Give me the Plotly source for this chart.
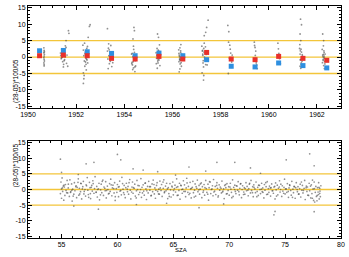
import plotly.graph_objects as go
from plotly.subplots import make_subplots

# ---------------- top panel: per-year clusters ----------------
dot_year = [
    # 1950
    1950.66,1950.67,1950.66,1950.68,1950.67,1950.66,1950.67,1950.68,1950.66,1950.67,1950.67,1950.68,
    # 1951
    1951.35,1951.38,1951.40,1951.42,1951.44,1951.46,1951.48,1951.50,1951.52,1951.55,1951.58,1951.60,
    1951.62,1951.65,1951.40,1951.45,1951.50,1951.55,1951.36,1951.68,1951.70,1951.58,1951.47,1951.43,
    # 1952
    1952.28,1952.30,1952.32,1952.34,1952.36,1952.38,1952.40,1952.42,1952.44,1952.46,1952.48,1952.50,
    1952.30,1952.33,1952.37,1952.41,1952.45,1952.35,1952.39,1952.30,1952.32,1952.58,1952.55,1952.50,
    1952.47,1952.43,
    # 1953
    1953.30,1953.32,1953.34,1953.36,1953.38,1953.40,1953.42,1953.44,1953.46,1953.48,1953.50,1953.33,
    1953.37,1953.41,1953.45,1953.52,1953.30,1953.35,1953.39,1953.43,
    # 1954
    1954.30,1954.32,1954.34,1954.36,1954.38,1954.40,1954.42,1954.44,1954.46,1954.48,1954.31,1954.35,
    1954.39,1954.43,1954.47,1954.33,1954.37,1954.41,1954.45,1954.40,1954.42,1954.36,1954.38,1954.44,
    # 1955
    1955.32,1955.34,1955.36,1955.38,1955.40,1955.42,1955.44,1955.46,1955.48,1955.35,1955.39,1955.43,
    1955.47,1955.37,1955.41,1955.45,1955.33,1955.38,1955.42,1955.40,1955.44,
    # 1956
    1956.26,1956.28,1956.30,1956.32,1956.34,1956.36,1956.38,1956.27,1956.31,1956.35,1956.29,1956.33,
    1956.37,1956.30,1956.34,1956.28,1956.32,1956.36,1956.31,1956.33,1956.27,1956.35,
    # 1957
    1957.22,1957.24,1957.26,1957.28,1957.30,1957.32,1957.34,1957.36,1957.38,1957.40,1957.25,1957.29,
    1957.33,1957.37,1957.27,1957.31,1957.35,1957.23,1957.30,1957.29,1957.32,1957.48,1957.42,1957.38,
    1957.44,1957.26,
    # 1958
    1958.30,1958.34,1958.38,1958.42,1958.46,1958.36,1958.40,1958.44,1958.32,1958.48,1958.33,
    # 1959
    1959.40,1959.43,1959.46,1959.49,1959.52,1959.44,1959.48,1959.41,1959.50,
    # 1960
    1960.38,1960.42,1960.45,1960.48,1960.40,
    # 1961
    1961.28,1961.30,1961.32,1961.34,1961.36,1961.38,1961.40,1961.29,1961.33,1961.37,1961.31,1961.35,
    1961.39,1961.30,1961.34,1961.32,1961.36,1961.30,1961.33,1961.31,
    # 1962
    1962.22,1962.24,1962.26,1962.28,1962.30,1962.32,1962.34,1962.23,1962.27,1962.31,1962.25,1962.29,
    1962.33,1962.26,1962.30,1962.24,1962.28,1962.32,1962.27,1962.29,
]
dot_diff = [
    2.8, 2.0, 1.3, 0.8, 0.3, -0.2, -0.7, -1.2, -1.8, -2.3, -2.7, 1.6,
    1.2, -0.5, 2.4, 0.3, -1.4, 0.9, -2.2, 1.6, -0.8, 0.1, 2.9, -1.9,
    0.6, -2.8, -0.2, 1.9, -1.1, 3.4, 0.5, 8.0, 7.2, 5.0, -3.0, 0.0,
    3.6, 2.1, 0.4, -1.2, -2.8, 1.5, -0.3, -3.9, 2.6, 0.9, -1.8, 0.2,
    -4.8, -5.6, 1.0, -2.2, -0.9, 4.2, -1.5, -8.0, -6.6, 9.8, 9.3, 6.0,
    3.2, -0.6,
    1.8, -0.6, 2.7, 0.4, -2.0, 1.1, -1.3, 3.5, 0.0, -2.9, 0.7, -3.5,
    2.2, -0.9, 1.5, -1.7, 8.6, 4.0, 0.3, -0.2,
    0.9, -1.6, -2.4, 0.2, -3.3, -0.7, 1.4, -4.4, -1.1, 0.5, -2.0, -3.8,
    2.3, -0.2, -2.7, 1.1, -1.4, -0.4, 0.6, 9.0, 8.0, 5.5, 3.3, -3.0,
    1.3, -0.4, 2.6, 0.1, -1.8, 0.9, -0.9, 3.7, -2.6, 0.5, -1.2, 1.8,
    -0.3, -3.4, 2.1, 0.2, -2.0, 7.0, 6.0, -0.6, 1.0,
    2.2, 0.6, -0.8, -2.1, 1.4, -0.3, 0.9, -1.4, -3.6, 3.8, 0.2, -1.0,
    -2.8, -0.5, 1.9, -4.5, 0.0, -1.7, 2.8, -0.9, 1.1, -0.2,
    3.3, 1.8, 0.5, -1.1, 2.6, 4.2, -0.4, 1.2, -2.3, 0.8, 2.0, -3.0,
    0.0, 3.1, -1.8, 1.5, -0.9, -4.8, -5.6, -7.0, 6.5, 11.2, 9.0, 7.5,
    -2.4, 0.9,
    9.6, 7.7, 3.6, 1.2, -1.5, -0.3, 2.4, -3.1, -5.0, 0.6, 4.5,
    4.5, 2.9, 1.8, -0.6, -3.5, 0.5, -1.8, 3.5, -2.4,
    4.2, 1.1, -0.5, -2.0, 2.5,
    2.6, 0.9, -0.7, -2.2, 1.5, -1.3, 0.3, 3.8, -3.4, -0.2, 1.9, -1.8,
    0.7, -2.8, 2.4, 11.5, 9.8, 7.0, 5.0, -0.9,
    2.3, 0.6, -1.0, -2.6, 1.4, -0.4, 0.9, -1.7, 3.4, -3.5, 0.1, 1.9,
    -2.1, -0.7, 0.3, 7.0, 5.0, -1.3, 0.8, -0.2,
]

sq_year = [1950.48, 1951.47, 1952.46, 1953.47, 1954.45, 1955.44, 1956.43,
           1957.42, 1958.44, 1959.43, 1960.41, 1961.42, 1962.41]
red_vals = [0.4, 0.6, 0.4, -0.4, -0.6, 0.2, -0.6, 1.4, -0.6, -0.8, 0.2, -0.4, -1.0]
blue_vals = [1.9, 2.0, 1.6, 1.1, 0.4, 1.2, 0.4, -0.8, -2.8, -3.0, -1.8, -2.6, -3.3]

# ---------------- bottom panel: versus SZA ----------------
sza = [
    54.9,54.95,55.0,55.0,55.05,55.1,55.15,55.2,55.25,55.3,
    55.35,55.4,55.5,55.55,55.6,55.7,55.75,55.8,55.9,55.95,
    56.0,56.1,56.15,56.2,56.3,56.35,56.4,56.5,56.55,56.6,
    56.7,56.75,56.8,56.9,56.95,57.0,57.1,57.15,57.2,57.3,
    57.35,57.4,57.5,57.55,57.6,57.7,57.75,57.8,57.9,57.95,
    58.0,58.1,58.15,58.2,58.3,58.35,58.4,58.5,58.55,58.6,
    58.7,58.75,58.8,58.9,58.95,59.0,59.1,59.15,59.2,59.3,
    59.35,59.4,59.5,59.55,59.6,59.7,59.75,59.8,59.9,59.95,
    60.0,60.1,60.15,60.2,60.3,60.35,60.4,60.5,60.55,60.6,
    60.7,60.75,60.8,60.9,60.95,61.0,61.1,61.15,61.2,61.3,
    61.35,61.4,61.5,61.55,61.6,61.7,61.75,61.8,61.9,61.95,
    62.0,62.1,62.15,62.2,62.3,62.35,62.4,62.5,62.55,62.6,
    62.7,62.75,62.8,62.9,62.95,63.0,63.1,63.15,63.2,63.3,
    63.35,63.4,63.5,63.55,63.6,63.7,63.75,63.8,63.9,63.95,
    64.0,64.1,64.15,64.2,64.3,64.35,64.4,64.5,64.55,64.6,
    64.7,64.75,64.8,64.9,64.95,65.0,65.1,65.15,65.2,65.3,
    65.35,65.4,65.5,65.55,65.6,65.7,65.75,65.8,65.9,65.95,
    66.0,66.1,66.15,66.2,66.3,66.35,66.4,66.5,66.55,66.6,
    66.7,66.75,66.8,66.9,66.95,67.0,67.1,67.15,67.2,67.3,
    67.35,67.4,67.5,67.55,67.6,67.7,67.75,67.8,67.9,67.95,
    68.0,68.1,68.15,68.2,68.3,68.35,68.4,68.5,68.55,68.6,
    68.7,68.75,68.8,68.9,68.95,69.0,69.1,69.15,69.2,69.3,
    69.35,69.4,69.5,69.55,69.6,69.7,69.75,69.8,69.9,69.95,
    70.0,70.1,70.15,70.2,70.3,70.35,70.4,70.5,70.55,70.6,
    70.7,70.75,70.8,70.9,70.95,71.0,71.1,71.15,71.2,71.3,
    71.35,71.4,71.5,71.55,71.6,71.7,71.75,71.8,71.9,71.95,
    72.0,72.1,72.15,72.2,72.3,72.35,72.4,72.5,72.55,72.6,
    72.7,72.75,72.8,72.9,72.95,73.0,73.1,73.15,73.2,73.3,
    73.35,73.4,73.5,73.55,73.6,73.7,73.75,73.8,73.9,73.95,
    74.0,74.1,74.15,74.2,74.3,74.35,74.4,74.5,74.55,74.6,
    74.7,74.75,74.8,74.9,74.95,75.0,75.1,75.15,75.2,75.3,
    75.35,75.4,75.5,75.55,75.6,75.7,75.75,75.8,75.9,75.95,
    76.0,76.1,76.15,76.2,76.3,76.35,76.4,76.5,76.55,76.6,
    76.7,76.75,76.8,76.9,76.95,77.0,77.1,77.15,77.2,77.3,
    77.35,77.4,77.5,77.55,77.6,77.7,77.75,77.8,77.9,78.0,
    78.05,78.1,78.15,78.2,77.65,77.85,77.45,78.0,77.95,78.1,
    # second pass
    55.07,55.46,55.61,55.92,56.04,56.28,56.47,56.63,56.86,57.03,
    57.24,57.43,57.66,57.83,58.09,58.22,58.48,58.64,58.87,59.02,
    59.26,59.44,59.67,59.81,60.08,60.23,60.46,60.62,60.88,61.04,
    61.27,61.43,61.68,61.84,62.07,62.24,62.47,62.63,62.88,63.03,
    63.27,63.44,63.68,63.83,64.08,64.22,64.47,64.64,64.87,65.02,
    65.28,65.43,65.67,65.84,66.07,66.23,66.48,66.62,66.87,67.04,
    67.28,67.42,67.66,67.83,68.08,68.24,68.46,68.63,68.88,69.03,
    69.27,69.44,69.68,69.82,70.07,70.23,70.48,70.64,70.86,71.04,
    71.28,71.43,71.67,71.83,72.08,72.22,72.47,72.63,72.88,73.02,
    73.27,73.44,73.68,73.84,74.07,74.23,74.48,74.62,74.87,75.04,
    75.28,75.42,75.66,75.83,76.08,76.24,76.46,76.64,76.88,77.03,
    77.27,77.44,77.62,77.88,78.03,78.12,55.22,55.83,56.72,57.58,
    # outliers
    54.9,57.2,57.9,60.0,60.3,62.3,63.6,58.3,56.1,61.7,
    66.4,68.9,70.5,67.9,75.1,77.2,74.1,74.0,77.6,67.3,
    71.9,77.6,61.4,55.0,56.5,65.2,69.5,72.8,64.4,
]
sza_diff = [
    -1.3, 2.4, 0.2, -2.8, 3.7, -0.6, 1.1, -3.4, 0.8, -1.9,
    1.6, -0.3, 2.9, -1.1, 0.5, -2.2, 3.1, -0.9, 1.8, -3.7,
    0.1, -1.5, 2.2, -0.4, 1.2, -2.6, 0.7, 3.4, -1.8, 0.4,
    -0.7, 1.9, -3.0, 0.9, 2.6, -1.4, 0.0, -2.1, 1.5, 3.8,
    -0.2, -1.6, 2.3, 0.6, -2.9, 1.3, -0.5, 2.8, -1.2, 0.3,
    4.1, -0.8, 1.0, -2.4, 0.2, 2.0, -3.3, -0.1, 1.7, -1.0,
    3.0, -1.9, 0.8, -0.4, 2.5, -2.7, 1.1, 0.0, -1.4, 1.9,
    -0.6, 3.3, -2.0, 0.5, 1.4, -1.1, 2.2, -3.5, 0.3, -0.9,
    1.6, -2.3, 0.9, 2.7, -0.3, -1.7, 3.9, 0.1, -1.0, 1.3,
    -2.6, 0.6, 2.0, -0.7, 1.0, -1.5, 3.2, -0.2, -3.0, 0.8,
    2.4, -1.2, 0.4, 1.7, -2.1, -0.4, 2.9, 0.0, -1.6, 1.2,
    -0.9, 3.5, -2.5, 0.7, 1.5, -0.5, -1.8, 2.1, 0.2, -3.2,
    1.0, -1.1, 2.6, -0.2, 0.9, -2.0, 1.8, -0.7, 3.0, -1.4,
    0.5, -2.8, 1.3, 2.2, -0.6, 0.1, -1.5, 2.7, -0.3, 1.6,
    -2.2, 0.4, 3.1, -1.0, 1.1, -0.4, 2.0, -2.9, 0.6, -1.3,
    1.9, -0.1, -2.4, 0.8, 2.4, -1.7, 0.3, 1.4, -0.8, 3.4,
    -1.9, 0.9, -0.3, 2.0, -3.1, 1.2, 0.0, -1.2, 2.8, -0.6,
    1.5, -2.3, 0.5, 3.6, -0.9, 1.0, -1.6, 2.3, 0.2, -2.7,
    0.7, 2.6, -1.0, -0.2, 1.8, -2.1, 0.4, 3.0, -0.7, 1.3,
    -1.5, 0.1, 2.1, -2.6, 0.9, -0.4, 1.6, -1.8, 2.9, 0.3,
    -0.9, 1.7, -3.4, 0.6, 2.4, -1.3, 0.0, 1.2, -2.0, 3.2,
    -0.5, 1.0, -1.6, 2.2, 0.4, -2.4, 1.5, -0.2, 0.8, -1.1,
    2.7, -0.8, 0.2, -2.9, 1.3, 0.6, -1.4, 1.9, -0.3, 0.9,
    -1.8, 2.0, 0.1, -0.9, 3.1, -2.2, 0.7, 1.4, -0.6, -1.3,
    1.1, -0.2, 2.5, -1.7, 0.4, 1.8, -2.6, 0.0, 1.2, -0.8,
    0.6, -1.5, 2.2, -0.4, 1.0, -2.0, 0.3, 1.7, -1.1, 2.9,
    -0.3, 0.9, -2.3, 1.5, 0.2, -1.0, 2.4, -0.6, 0.7, -1.9,
    1.3, 0.0, -1.3, 2.0, -0.7, 0.5, -2.7, 1.6, -0.2, 0.9,
    -1.6, 2.5, 0.3, -0.9, 1.1, -2.1, 0.6, 1.8, -0.4, -1.2,
    0.8, -3.0, 2.1, -0.1, 1.4, -1.7, 0.4, 2.8, -0.8, 0.0,
    -2.2, 1.2, -0.5, 0.7, 3.3, -1.4, 0.2, -0.9, 1.9, -2.5,
    0.5, 1.5, -0.3, -1.8, 2.6, 0.1, -1.0, 1.0, -2.8, 0.6,
    2.2, -0.7, 0.9, -1.5, 0.3, 1.7, -2.4, -0.2, 1.3, -1.1,
    0.4, 2.9, -3.2, 1.1, -0.6, 0.8, -1.9, 2.0, -0.4, -2.7,
    1.5, -1.3, 0.2, -3.5, 2.4, -0.9, 1.0, -2.2, 0.6, -1.6,
    -3.0, 0.4, -2.3, 1.2, -4.0, -3.6, 3.0, 2.2, -0.8, -1.2,
    # second pass
    0.5, -1.0, 1.7, -0.2, -2.1, 0.9, 2.3, -1.4, 0.2, -0.6,
    1.2, -2.5, 0.7, 1.9, -0.9, 0.0, -1.7, 2.6, 0.4, -0.3,
    -1.2, 1.5, 0.3, -2.3, 0.8, -0.5, 1.9, -1.6, 0.1, 2.2,
    -0.8, 0.6, -2.7, 1.3, 0.0, -1.1, 2.0, -0.4, 0.9, -1.9,
    1.6, -0.2, -1.4, 0.5, 2.4, -0.7, 0.2, -2.2, 1.1, -0.3,
    0.7, -1.8, 1.4, 0.1, -0.6, 2.1, -1.2, 0.4, -2.4, 0.9,
    -0.1, 1.8, -0.9, 0.6, -1.5, 2.5, 0.2, -0.8, 1.3, -2.0,
    0.4, -0.5, 1.6, -1.3, 0.8, -2.6, 0.0, 1.2, -0.7, 1.9,
    -1.6, 0.3, -0.2, 2.0, -1.0, 0.7, -2.3, 1.4, 0.1, -0.9,
    2.2, -1.5, 0.5, -0.4, 1.0, -2.1, 0.8, 1.7, -1.2, 0.2,
    -0.6, 1.3, -2.5, 0.9, 0.0, -1.4, 2.4, -0.3, 0.6, -1.8,
    1.1, -2.8, 0.3, -1.9, 0.7, -0.5, 1.4, -0.7, 2.0, -1.3,
    # outliers
    9.7, 8.2, 8.7, 11.2, 9.5, 6.2, 5.7, -6.3, -5.3, -4.8,
    7.2, 8.7, 8.7, 5.9, 9.5, 11.4, -7.0, -8.1, -7.1, -5.8,
    6.9, 7.6, 6.6, 5.5, 4.8, 4.6, -4.6, 5.2, -4.4,
]

ref_levels = [-5, 0, 5]
y_ticks = [-15, -10, -5, 0, 5, 10, 15]
y_tick_text = ["-15", "-10", "-5", "0", "5", "10", "15"]
year_ticks = [1950, 1952, 1954, 1956, 1958, 1960, 1962]
sza_ticks = [55, 60, 65, 70, 75, 80]

FONT = "Liberation Sans"
GOLD = "#F3C53A"
DOT = "rgba(70,70,70,0.6)"

fig = make_subplots(rows=2, cols=1, vertical_spacing=0.14)

fig.add_trace(go.Scatter(x=dot_year, y=dot_diff, mode="markers",
                         marker=dict(size=1.8, color=DOT), hoverinfo="skip"), row=1, col=1)
fig.add_trace(go.Scatter(x=sza, y=sza_diff, mode="markers",
                         marker=dict(size=1.7, color=DOT), hoverinfo="skip"), row=2, col=1)
fig.add_trace(go.Scatter(x=sq_year, y=blue_vals, mode="markers",
                         marker=dict(symbol="square", size=5, color="#2E8FE0")), row=1, col=1)
fig.add_trace(go.Scatter(x=sq_year, y=red_vals, mode="markers",
                         marker=dict(symbol="square", size=5, color="#E8302A")), row=1, col=1)

for lv in ref_levels:
    for r in (1, 2):
        fig.add_hline(y=lv, line=dict(color=GOLD, width=1.3), row=r, col=1, layer="below")

axis_common = dict(showline=True, linecolor="black", linewidth=1, mirror="ticks",
                   ticks="inside", ticklen=4, tickcolor="black", showgrid=False,
                   zeroline=False, tickfont=dict(family=FONT, size=7, color="black"))

fig.update_xaxes(range=[1950, 1963], tickvals=year_ticks,
                 minor=dict(ticks="inside", ticklen=2, dtick=0.5, tick0=1950, tickcolor="black"),
                 row=1, col=1, **axis_common)
fig.update_xaxes(range=[52, 80], tickvals=sza_ticks,
                 minor=dict(ticks="inside", ticklen=2, dtick=1, tickcolor="black"),
                 row=2, col=1, **axis_common)
for r in (1, 2):
    fig.update_yaxes(range=[-15.5, 15.5], tickvals=y_ticks, ticktext=y_tick_text,
                     minor=dict(ticks="inside", ticklen=2, dtick=1, tick0=0, tickcolor="black"),
                     row=r, col=1, **axis_common)

fig.update_layout(
    width=349, height=257,
    margin=dict(l=28, r=4, t=6, b=19),
    paper_bgcolor="white", plot_bgcolor="white",
    showlegend=False,
    font=dict(family=FONT, size=7, color="black"),
)
fig.update_layout(yaxis=dict(domain=[0.56, 1.0]), yaxis2=dict(domain=[0.0, 0.418]))

ylab = "(28-05)*100/05"
fig.add_annotation(text=ylab, xref="paper", yref="paper", x=-0.058, y=0.78,
                   textangle=-90, showarrow=False, font=dict(family=FONT, size=6.5))
fig.add_annotation(text=ylab, xref="paper", yref="paper", x=-0.058, y=0.209,
                   textangle=-90, showarrow=False, font=dict(family=FONT, size=6.5))
fig.add_annotation(text="SZA", xref="paper", yref="paper", x=0.489, y=-0.05,
                   yanchor="middle", showarrow=False, font=dict(family=FONT, size=6))

fig.write_html("out.html")
